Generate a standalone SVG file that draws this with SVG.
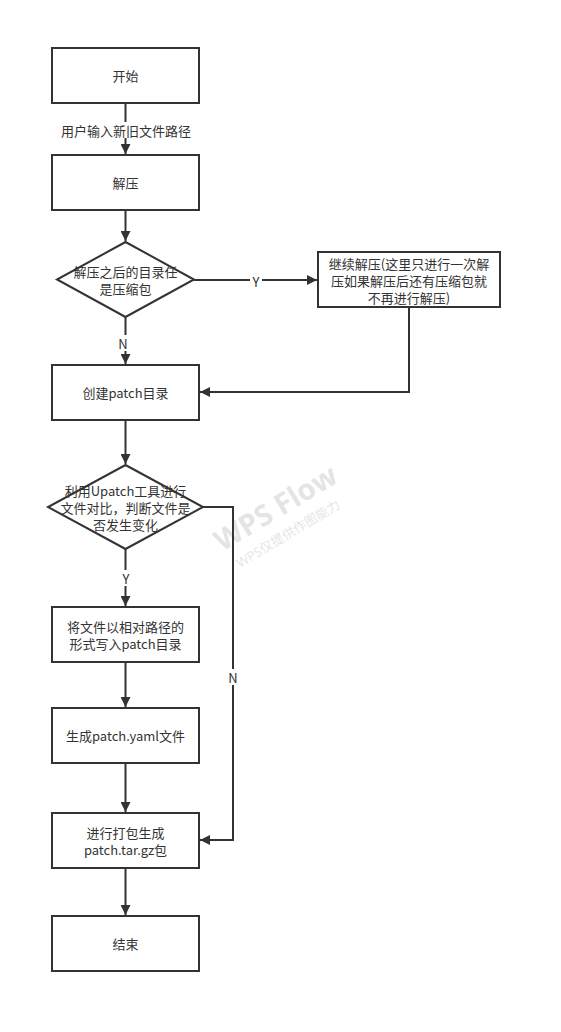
<svg xmlns="http://www.w3.org/2000/svg" width="561" height="1032" viewBox="0 0 561 1032">
  <defs>
    <marker id="arrow" viewBox="0 0 10 10" refX="10" refY="5" markerWidth="10" markerHeight="10" markerUnits="userSpaceOnUse" orient="auto">
      <path d="M0,0 L10,5 L0,10 Z" fill="#333"/>
    </marker>
    <style>
      .node { fill: #fff; stroke: #333; stroke-width: 2; }
      .edge { fill: none; stroke: #333; stroke-width: 2; marker-end: url(#arrow); }
      .label { font-family: "Noto Sans CJK SC", "Open Sans", sans-serif; font-size: 13px; fill: #333; text-anchor: middle; dominant-baseline: central; }
      .bg { fill: #fff; }
      .wm { font-family: "Open Sans", "Noto Sans CJK SC", sans-serif; fill: #000; opacity: 0.1; }
    </style>
  </defs>
  <rect width="561" height="1032" fill="#fff"/>

  <!-- watermark -->
  <g id="watermark">
    <text class="wm" x="0" y="0" font-size="29" font-weight="bold" transform="translate(222,552) rotate(-31)">WPS Flow</text>
    <text class="wm" x="0" y="0" font-size="13" transform="translate(240,568) rotate(-31)">WPS仅提供作图能力</text>
  </g>

  <!-- connectors -->
  <g id="connectors">
    <path class="edge" d="M125.5,103 L125.5,154"/>
    <path class="edge" d="M125.5,210 L125.5,241"/>
    <path class="edge" d="M194,280 L317,280"/>
    <path class="edge" d="M125.5,317 L125.5,364"/>
    <path class="edge" d="M409,307 L409,392 L200,392"/>
    <path class="edge" d="M125.5,420 L125.5,464"/>
    <path class="edge" d="M125.5,549 L125.5,606"/>
    <path class="edge" d="M203,507 L233,507 L233,840 L200,840"/>
    <path class="edge" d="M125.5,662 L125.5,707"/>
    <path class="edge" d="M125.5,763 L125.5,812"/>
    <path class="edge" d="M125.5,868 L125.5,915"/>
    <!-- edge labels -->
    <rect class="bg" x="58" y="122" width="138" height="16"/>
    <text class="label" x="126" y="130">用户输入新旧文件路径</text>
    <rect class="bg" x="250" y="272" width="12" height="16"/>
    <text class="label" x="256" y="281">Y</text>
    <rect class="bg" x="117" y="335" width="14" height="16"/>
    <text class="label" x="123" y="343">N</text>
    <rect class="bg" x="119" y="570" width="14" height="16"/>
    <text class="label" x="126" y="578">Y</text>
    <rect class="bg" x="226" y="669" width="14" height="16"/>
    <text class="label" x="233" y="677">N</text>
  </g>

  <g id="start">
    <rect class="node" x="52" y="48" width="147" height="55"/>
    <text class="label" x="125.5" y="75.5">开始</text>
  </g>
  <g id="unzip">
    <rect class="node" x="52" y="155" width="147" height="55"/>
    <text class="label" x="125.5" y="182.5">解压</text>
  </g>
  <g id="check-archive">
    <polygon class="node" points="125.5,242 194,279.5 125.5,317 57,279.5"/>
    <text class="label" x="125.5" y="271">解压之后的目录任</text>
    <text class="label" x="125.5" y="288">是压缩包</text>
  </g>
  <g id="unzip-again">
    <rect class="node" x="318" y="252" width="182" height="55"/>
    <text class="label" x="409" y="263">继续解压(这里只进行一次解</text>
    <text class="label" x="409" y="280">压如果解压后还有压缩包就</text>
    <text class="label" x="409" y="297">不再进行解压)</text>
  </g>
  <g id="create-dir">
    <rect class="node" x="52" y="365" width="147" height="55"/>
    <text class="label" x="125.5" y="392.5">创建patch目录</text>
  </g>
  <g id="compare">
    <polygon class="node" points="125.5,465 203,507 125.5,549 48,507"/>
    <text class="label" x="125.5" y="490.5">利用Upatch工具进行</text>
    <text class="label" x="125.5" y="507.5">文件对比，判断文件是</text>
    <text class="label" x="125.5" y="524.5">否发生变化</text>
  </g>
  <g id="write-files">
    <rect class="node" x="52" y="607" width="147" height="55"/>
    <text class="label" x="125.5" y="626">将文件以相对路径的</text>
    <text class="label" x="125.5" y="643">形式写入patch目录</text>
  </g>
  <g id="gen-yaml">
    <rect class="node" x="52" y="708" width="147" height="55"/>
    <text class="label" x="125.5" y="735.5">生成patch.yaml文件</text>
  </g>
  <g id="package">
    <rect class="node" x="52" y="813" width="147" height="55"/>
    <text class="label" x="125.5" y="832">进行打包生成</text>
    <text class="label" x="125.5" y="849">patch.tar.gz包</text>
  </g>
  <g id="end">
    <rect class="node" x="52" y="916" width="147" height="55"/>
    <text class="label" x="125.5" y="943.5">结束</text>
  </g>
</svg>
